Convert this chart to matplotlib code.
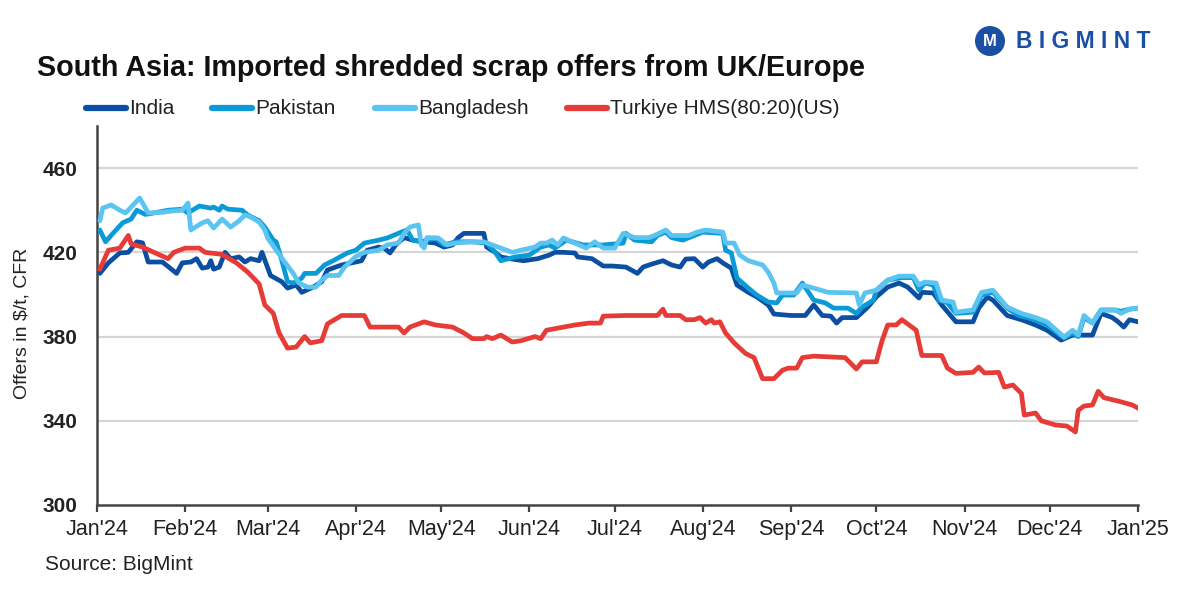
import numpy as np
import matplotlib
matplotlib.use("Agg")
import matplotlib.pyplot as plt
from matplotlib.lines import Line2D
from matplotlib.patches import Ellipse

plt.rcParams['font.family'] = ['Liberation Sans', 'DejaVu Sans']

# ---- data (day offset from 2024-01-01, value in $/t CFR) ----
india_day = [1, 4, 8, 11, 14, 16, 18, 23, 28, 30, 33, 35, 37, 39, 40, 41, 43, 45, 47, 50, 52, 54, 57, 58,
             61, 65, 67, 70, 72, 76, 79, 81, 86, 91, 93, 95, 99, 101, 103, 105, 108, 111, 115, 119, 122,
             125, 127, 129, 136, 137, 140, 142, 146, 150, 155, 159, 161, 164, 168, 169, 174, 178, 181, 186,
             190, 192, 195, 199, 202, 205, 207, 210, 213, 215, 218, 220, 223, 225, 229, 232, 236, 238, 244,
             249, 252, 255, 258, 260, 262, 267, 271, 274, 278, 282, 285, 289, 290, 294, 297, 302, 308, 310,
             313, 315, 320, 325, 330, 334, 339, 343, 350, 353, 357, 359, 361, 363, 366]
india_val = [410, 415, 419.7, 420, 425, 424.5, 415.4, 415.4, 410, 415, 415.4, 417, 412.5, 413, 416, 412, 413,
             420, 417, 417.8, 415.4, 417, 416, 420, 409, 406, 403, 404.5, 401, 403.5, 406, 411.6, 414, 415.4,
             416, 421, 422.5, 422, 419.7, 423.5, 427, 425.8, 425, 424.4, 422.5, 423.5, 427, 429, 429, 422.5,
             420, 417.8, 416.8, 416, 417, 418.7, 420, 420, 419.7, 417.8, 417, 413.5, 413.5, 413, 410, 413,
             414.4, 416, 414, 413, 416.8, 417, 413, 415.4, 417, 415, 412.5, 404.5, 401, 398.8, 395, 390.7,
             390, 390, 395, 390, 389.7, 386.4, 389, 389, 394, 398.8, 403.5, 405.4, 403.5, 398.3, 401, 400.7,
             395, 387, 387, 393.5, 398.8, 397.3, 390, 388, 385.5, 383, 378.3, 380.7, 380.7, 391, 389, 387,
             384.5, 388, 387]

pakistan_day = [1, 3, 6, 9, 12, 14, 17, 20, 25, 30, 32, 36, 38, 40, 41, 43, 44, 46, 51, 53, 57, 59, 62, 63,
                65, 67, 69, 72, 73, 77, 80, 83, 88, 91, 94, 99, 102, 107, 109, 111, 114, 119, 122, 126, 132,
                137, 140, 142, 147, 152, 156, 159, 161, 165, 171, 178, 185, 186, 189, 195, 197, 200, 202, 206,
                210, 213, 220, 221, 223, 225, 229, 232, 236, 239, 241, 245, 248, 252, 256, 259, 264, 267, 269,
                273, 274, 278, 283, 287, 289, 291, 294, 296, 299, 302, 308, 311, 315, 320, 324, 329, 334, 340,
                343, 345, 347, 350, 353, 358, 360, 363, 366]
pakistan_val = [430.6, 425, 429.6, 434, 435.8, 440, 438, 438.7, 440, 440.5, 438.7, 442, 441.5, 441, 441.5,
                440, 442, 440.5, 440, 437.7, 435, 432, 425.8, 425, 416, 406, 405.4, 407.8, 410, 410, 414, 416,
                419.7, 421, 424.4, 425.8, 426.8, 429.6, 430.6, 425.8, 425, 426.8, 423.5, 425, 425, 424.4, 420,
                416, 417.8, 418.7, 422.5, 423.5, 422, 425.8, 423.5, 423.5, 424.4, 429, 425.8, 425, 428, 429.6,
                427, 425.8, 428, 429.6, 429, 421, 419.7, 407.8, 403, 399.7, 396.4, 396, 399.7, 399.7, 405.4,
                397.3, 396, 393.5, 393.5, 391, 394, 397.3, 402, 406.8, 408, 408, 402, 405.4, 404.5, 397.3, 396,
                391, 391.6, 399.7, 401, 393.5, 390, 388.3, 385.5, 379.3, 381.7, 380, 389, 386.4, 392.6, 392.6,
                392, 393, 393.5]

bangladesh_day = [1, 2, 5, 8, 10, 12, 15, 16, 18, 23, 26, 30, 32, 33, 34, 37, 39, 41, 44, 47, 50, 52, 54, 57,
                  59, 60, 63, 66, 69, 71, 74, 77, 79, 81, 85, 87, 91, 94, 99, 102, 106, 108, 110, 113, 114, 115,
                  116, 120, 123, 126, 132, 136, 141, 146, 149, 154, 156, 158, 160, 162, 164, 168, 172, 175, 178,
                  182, 185, 189, 194, 196, 200, 202, 208, 211, 214, 220, 221, 224, 226, 229, 234, 236, 238, 239,
                  246, 248, 252, 257, 267, 268, 270, 274, 278, 282, 287, 289, 291, 295, 297, 301, 302, 308, 311,
                  315, 320, 325, 330, 334, 340, 343, 345, 347, 350, 353, 358, 360, 363, 366]
bangladesh_val = [435, 441, 442.5, 440, 438.7, 441.5, 445.8, 443.4, 438.7, 439, 439.6, 440, 443.4, 430.6,
                  431.5, 434, 435, 431.5, 435.8, 432, 435, 437.7, 436.8, 434.4, 430.6, 426.8, 421, 415.4, 410,
                  405.4, 403.5, 403.5, 406.8, 409, 409, 413, 418, 420, 421, 423.5, 424.4, 429, 432, 433, 423.5,
                  422, 427, 426.8, 423.5, 424.4, 425, 425, 422.5, 420, 421, 422.5, 424.4, 424.4, 425.8, 423.5,
                  426.8, 424.4, 422, 425, 422, 422, 429, 427, 427, 428, 430.6, 428, 428, 429.6, 430.6, 429.6,
                  424.4, 424.4, 418.7, 416, 414, 410.6, 405.4, 400.7, 400.7, 404.5, 403, 401, 400.7, 395, 400.7,
                  402, 406.8, 408.7, 408.7, 404.5, 405.9, 405.4, 397.3, 396.4, 391.6, 392.6, 401, 402, 394, 391,
                  389, 387, 379.8, 383, 380.7, 390, 386.4, 392.6, 392.6, 391, 393, 393.5]

turkiye_day = [1, 4, 8, 11, 12, 16, 20, 25, 27, 31, 36, 38, 44, 49, 53, 57, 59, 62, 64, 67, 70, 73, 75, 79,
               81, 86, 91, 94, 96, 106, 108, 110, 115, 119, 125, 129, 132, 136, 137, 139, 142, 146, 149, 154,
               156, 158, 164, 168, 173, 177, 178, 186, 197, 199, 200, 205, 207, 210, 212, 214, 216, 217, 219,
               221, 224, 228, 231, 234, 238, 241, 243, 246, 248, 252, 263, 267, 269, 274, 276, 278, 281, 283,
               288, 290, 297, 299, 302, 308, 310, 312, 317, 319, 322, 325, 326, 330, 332, 337, 341, 344, 345,
               347, 350, 352, 354, 360, 364, 366]
turkiye_val = [412, 421, 422, 428, 424, 422.5, 420, 417, 420, 422, 422, 420, 419, 415, 410.6, 405, 395, 391,
               381.7, 374.5, 375, 380, 377, 378, 386, 390, 390, 390, 384.5, 384.5, 381.7, 384.5, 387, 385.5,
               384.5, 381.7, 379, 379, 380, 379, 380.7, 377.4, 378, 380, 379, 383, 384.5, 385.5, 386.4, 386.4,
               389.7, 390, 390, 393, 390, 390, 388, 388, 389, 386.4, 388, 386.4, 387, 381.7, 377, 372, 370,
               360, 360, 364, 365, 365, 370, 370.7, 370, 364.6, 368, 368, 378, 385.5, 385.5, 388, 383, 371,
               371, 365, 362.5, 363, 365.5, 362.7, 363, 356, 357, 353, 342.7, 343.7, 340, 338, 337.5, 334.7,
               345, 347, 347.5, 354, 351, 349, 347.5, 346]

series_names = ["India", "Pakistan", "Bangladesh", "Turkiye HMS(80:20)(US)"]
series_days = [india_day, pakistan_day, bangladesh_day, turkiye_day]
series_vals = [india_val, pakistan_val, bangladesh_val, turkiye_val]
series_colors = ["#0B4EA2", "#0A9AD7", "#5BC4F1", "#E63B36"]

yticks = [300, 340, 380, 420, 460]
month_labels = ["Jan'24", "Feb'24", "Mar'24", "Apr'24", "May'24", "Jun'24", "Jul'24",
                "Aug'24", "Sep'24", "Oct'24", "Nov'24", "Dec'24", "Jan'25"]

W, H = 1182, 589
fig = plt.figure(figsize=(W / 100, H / 100), dpi=100)
ax = fig.add_axes([97 / W, 1 - 505 / H, (1138 - 97) / W, (505 - 126) / H])

start = np.datetime64("2024-01-01")
for d, v, c in zip(series_days, series_vals, series_colors):
    dates = start + np.array(d).astype("timedelta64[D]")
    ax.plot(dates, v, color=c, lw=3.4, solid_joinstyle="round", solid_capstyle="round", zorder=3)

ax.set_ylim(300, 480)
ax.set_yticks(yticks)
ax.set_yticklabels([str(t) for t in yticks], fontsize=15, fontweight="bold", color="#222222")
ax.tick_params(axis="y", length=0, pad=14)
for t in yticks[1:]:
    ax.axhline(t, color="#d6d6d6", lw=1.6, zorder=1)

month_ticks = [np.datetime64(f"2024-{m:02d}-01") for m in range(1, 13)] + [np.datetime64("2025-01-01")]
ax.set_xlim(np.datetime64("2024-01-01"), np.datetime64("2025-01-01"))
ax.set_xticks(month_ticks)
ax.set_xticklabels(month_labels, fontsize=15.5, color="#222222")
ax.tick_params(axis="x", length=5, width=1.6, color="#444444", pad=5)

for s in ["top", "right"]:
    ax.spines[s].set_visible(False)
for s in ["left", "bottom"]:
    ax.spines[s].set_color("#444444")
    ax.spines[s].set_linewidth(1.8)

ax.set_ylabel("Offers in $/t, CFR", fontsize=14, color="#222222")
ax.yaxis.set_label_coords(-66 / (1138 - 97), 0.48)

# title
fig.text(37 / W, 1 - 68 / H, "South Asia: Imported shredded scrap offers from UK/Europe",
         fontsize=20.7, fontweight="bold", color="#111111", va="center", ha="left")

# legend (manual)
leg_line_x = [84, 210, 373, 565]
ly = 1 - 108 / H
for x0, name, c in zip(leg_line_x, series_names, series_colors):
    fig.add_artist(Line2D([(x0 + 2) / W, (x0 + 42) / W], [ly, ly], color=c, lw=4.5,
                          solid_capstyle="round", transform=fig.transFigure))
    fig.text((x0 + 45) / W, ly, name, fontsize=15, color="#222222", va="center", ha="left")

# source
fig.text(45 / W, 1 - 564 / H, "Source: BigMint", fontsize=15, color="#222222", va="center", ha="left")

# logo
logo_blue = "#1B4FA3"
fig.add_artist(Ellipse((990 / W, 1 - 41 / H), 30 / W, 30 / H, transform=fig.transFigure,
                       facecolor=logo_blue, edgecolor="none"))
fig.text(990 / W, 1 - 42 / H, "M", fontsize=12, fontweight="bold", color="white",
         ha="center", va="center")
fig.text(1016 / W, 1 - 42 / H, "B I G M I N T", fontsize=16.5, fontweight="bold", color=logo_blue,
         ha="left", va="center")

fig.savefig("out.png", dpi=100)
